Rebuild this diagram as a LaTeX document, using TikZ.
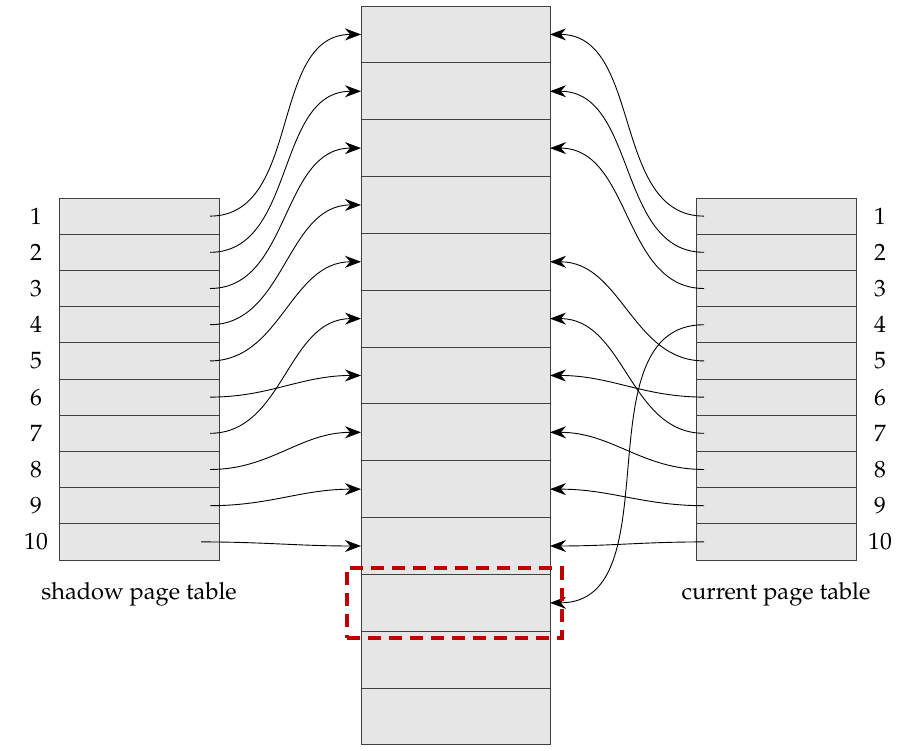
\documentclass[tikz,border=0pt]{standalone}
\usepackage[T1]{fontenc}
\usepackage{mathpazo}
\usetikzlibrary{arrows.meta,positioning,fit,calc}
\definecolor{cellFill}{HTML}{E6E6E6}
\definecolor{cellEdge}{HTML}{404040}
\definecolor{markRed}{HTML}{C00000}

\begin{document}
\begin{tikzpicture}[x=0.5pt,y=-0.5pt,
  cellbox/.style={draw=cellEdge,fill=cellFill,outer sep=0pt,inner sep=0pt,line width=0.5pt},
  memrow/.style={cellbox,minimum width=94.5pt,minimum height=28.42pt},
  ptrow/.style={cellbox,minimum width=80pt,minimum height=18.1pt},
  idx/.style={font=\fontsize{11.8}{14}\selectfont},
  capt/.style={font=\fontsize{11.8}{14}\selectfont},
  ptr/.style={-{Stealth[length=8pt,width=6pt]},line width=0.45pt},
  markbox/.style={draw=markRed,line width=2pt,dash pattern=on 6.5pt off 4pt,inner xsep=6.5pt,inner ysep=3.25pt}]
  \useasboundingbox (0,0) rectangle (919,750);
  \node[memrow] (m1) at (455.5,34.42) {};
  \foreach \i [count=\j] in {2,...,13}
    \node[memrow,below=0pt of m\j] (m\i) {};
  \node[ptrow] (s1) at (139,216.1) {};
  \node[ptrow] (c1) at (776,216.1) {};
  \foreach \i [count=\j] in {2,...,10} {
    \node[ptrow,below=0pt of s\j] (s\i) {};
    \node[ptrow,below=0pt of c\j] (c\i) {};
  }
  \foreach \i in {1,...,10} {
    \node[idx] (sn\i) at ($(s\i.west)+(-23,0)$) {\i};
    \node[idx] (cn\i) at ($(c\i.east)+(24,0)$) {\i};
  }
  \node[capt] (slabel) at ($(s10.south)+(0,34)$) {shadow page table};
  \node[capt] (clabel) at ($(c10.south)+(0,34)$) {current page table};
  \draw[ptr] ([xshift=-4.5pt]s1.east) to[out=0,in=180] (m1.west);
  \draw[ptr] ([xshift=-4.5pt]s2.east) to[out=0,in=180] (m2.west);
  \draw[ptr] ([xshift=-4.5pt]s3.east) to[out=0,in=180] (m3.west);
  \draw[ptr] ([xshift=-4.5pt]s4.east) to[out=0,in=180] (m4.west);
  \draw[ptr] ([xshift=-4.5pt]s5.east) to[out=0,in=180] (m5.west);
  \draw[ptr] ([xshift=-4.5pt]s6.east) to[out=0,in=180] (m7.west);
  \draw[ptr] ([xshift=-4.5pt]s7.east) to[out=0,in=180] (m6.west);
  \draw[ptr] ([xshift=-4.5pt]s8.east) to[out=0,in=180] (m8.west);
  \draw[ptr] ([xshift=-4.5pt]s9.east) to[out=0,in=180] (m9.west);
  \draw[ptr] ([xshift=-9pt]s10.east) to[out=0,in=180] (m10.west);
  \draw[ptr] ([xshift=4pt]c1.west) to[out=180,in=0] (m1.east);
  \draw[ptr] ([xshift=4pt]c2.west) to[out=180,in=0] (m2.east);
  \draw[ptr] ([xshift=4pt]c3.west) to[out=180,in=0] (m3.east);
  \draw[ptr] ([xshift=4pt]c4.west) to[out=180,in=0] (m11.east);
  \draw[ptr] ([xshift=4pt]c5.west) to[out=180,in=0] (m5.east);
  \draw[ptr] ([xshift=4pt]c6.west) to[out=180,in=0] (m7.east);
  \draw[ptr] ([xshift=4pt]c7.west) to[out=180,in=0] (m6.east);
  \draw[ptr] ([xshift=4pt]c8.west) to[out=180,in=0] (m8.east);
  \draw[ptr] ([xshift=4pt]c9.west) to[out=180,in=0] (m9.east);
  \draw[ptr] ([xshift=4pt]c10.west) to[out=180,in=0] (m10.east);
  \node[markbox,fit=(m11),xshift=-0.75pt] (hl) {};
\end{tikzpicture}
\end{document}
